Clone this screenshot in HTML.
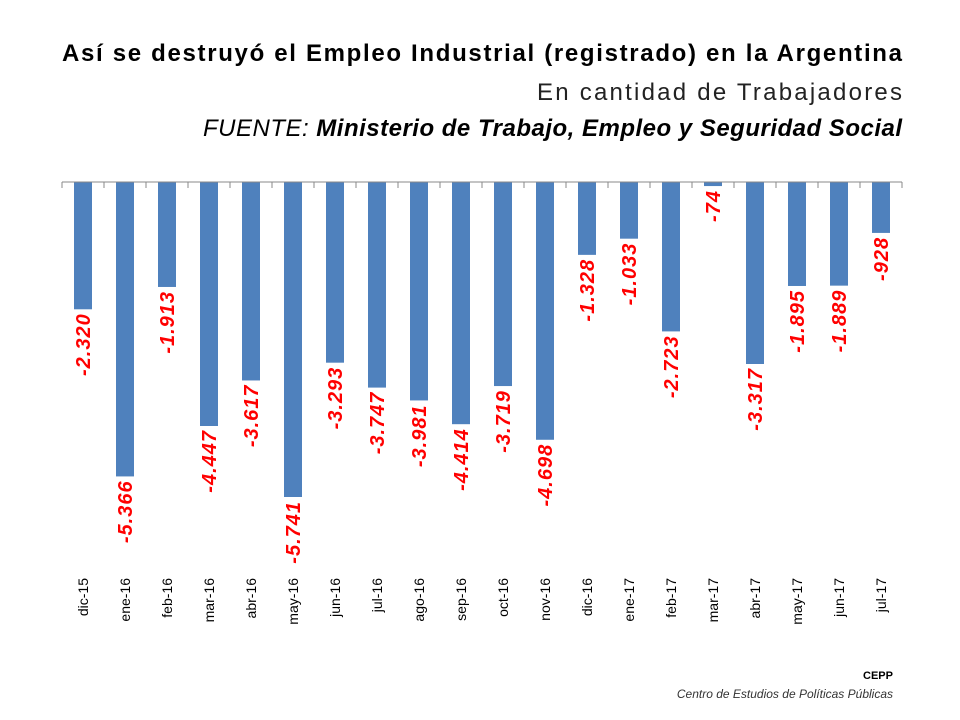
<!DOCTYPE html>
<html><head><meta charset="utf-8"><style>
body{margin:0;background:#fff}
svg{display:block}
</style></head><body>
<svg id="c" width="960" height="720" xmlns="http://www.w3.org/2000/svg" font-family="Liberation Sans, sans-serif">
<text x="902" y="61" text-anchor="end" font-size="24" font-weight="bold" fill="#000" textLength="840" lengthAdjust="spacing">Así se destruyó el Empleo Industrial (registrado) en la Argentina</text>
<text x="902" y="100" text-anchor="end" font-size="24" fill="#222" textLength="365" lengthAdjust="spacing">En cantidad de Trabajadores</text>
<text x="902" y="136" text-anchor="end" font-size="24" font-style="italic" fill="#000" textLength="699" lengthAdjust="spacing">FUENTE: <tspan font-weight="bold">Ministerio de Trabajo, Empleo y Seguridad Social</tspan></text>
<g id="plot"></g>
<text x="893" y="679" text-anchor="end" font-size="11" font-weight="bold">CEPP</text>
<text x="893" y="698" text-anchor="end" font-size="12" font-style="italic" fill="#333">Centro de Estudios de Políticas Públicas</text>
</svg>
<script>
const categories=["dic-15","ene-16","feb-16","mar-16","abr-16","may-16","jun-16","jul-16","ago-16","sep-16","oct-16","nov-16","dic-16","ene-17","feb-17","mar-17","abr-17","may-17","jun-17","jul-17"];
const values=[-2320,-5366,-1913,-4447,-3617,-5741,-3293,-3747,-3981,-4414,-3719,-4698,-1328,-1033,-2723,-74,-3317,-1895,-1889,-928];
const valueLabels=["-2.320","-5.366","-1.913","-4.447","-3.617","-5.741","-3.293","-3.747","-3.981","-4.414","-3.719","-4.698","-1.328","-1.033","-2.723","-74","-3.317","-1.895","-1.889","-928"];
const NS="http://www.w3.org/2000/svg";
const g=document.getElementById('plot');
const x0=62,x1=902,y0=182,k=315/5741;
const step=(x1-x0)/categories.length;
const X=i=>x0+step*(i+0.5);
const Y=v=>y0-v*k;
function mk(t,a){const e=document.createElementNS(NS,t);for(const n in a)e.setAttribute(n,a[n]);g.appendChild(e);return e;}
values.forEach((v,i)=>{
  const r=mk('rect',{x:X(i)-9,y:Math.min(y0,Y(v)),width:18,height:Math.abs(Y(v)-y0),fill:'#4f81bd'});
  
  
  const ly=Y(v)+4;
  const t=mk('text',{x:X(i)+7,y:ly,transform:`rotate(-90 ${X(i)+7} ${ly})`,'text-anchor':'end','font-size':20,'letter-spacing':1,'font-weight':'bold','font-style':'italic',fill:'#ff0000'});
  t.textContent=valueLabels[i];
  
  
  const cy=578;
  const c=mk('text',{x:X(i)+5,y:cy,transform:`rotate(-90 ${X(i)+5} ${cy})`,'text-anchor':'end','font-size':14,fill:'#000'});
  c.textContent=categories[i];
  
  
});
const ax=mk('line',{x1:x0,y1:y0,x2:x1,y2:y0,stroke:'#888','stroke-width':1});


for(let i=0;i<=categories.length;i++){
  const tk=mk('line',{x1:x0+step*i,y1:y0,x2:x0+step*i,y2:y0+6,stroke:'#888','stroke-width':1});
  
  
}
</script>
</body></html>
